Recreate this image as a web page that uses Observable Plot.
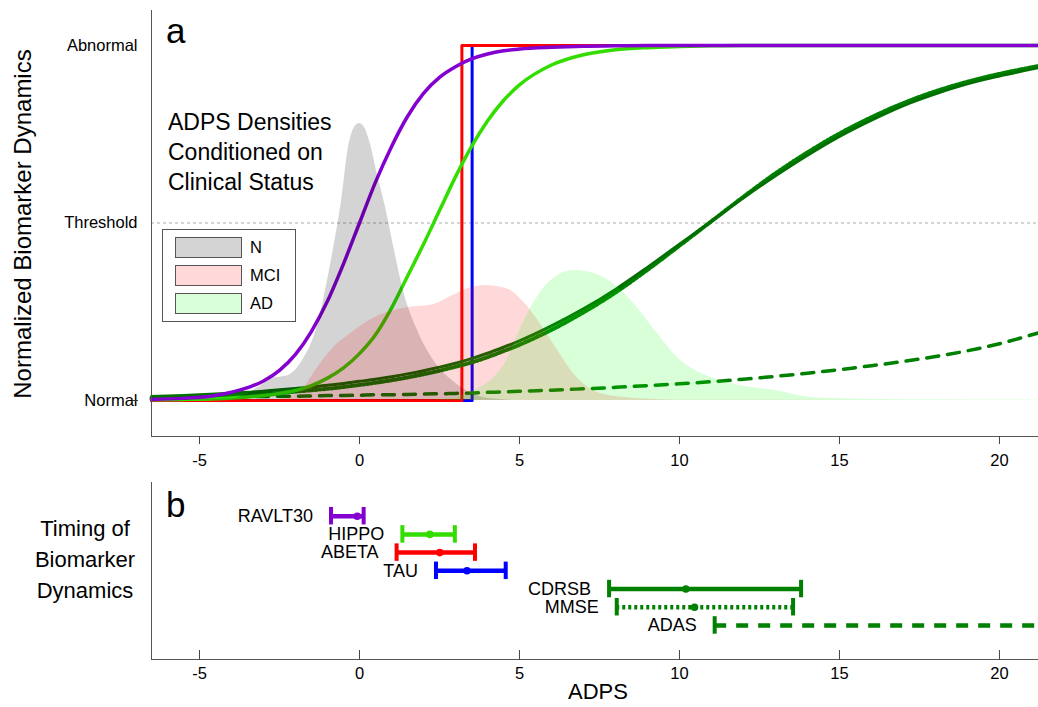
<!DOCTYPE html>
<html><head><meta charset="utf-8">
<script src="https://cdn.jsdelivr.net/npm/d3@7"></script>
<script src="https://cdn.jsdelivr.net/npm/@observablehq/plot@0.6"></script>
<style>
html,body{margin:0;padding:0;background:#fff;overflow:hidden;}
body{width:1038px;height:707px;position:relative;font-family:"Liberation Sans",Arial,sans-serif;color:#000;}
#pa{position:absolute;left:0;top:0;}
#pb{position:absolute;left:0;top:470px;}
.abs{position:absolute;white-space:nowrap;line-height:1;}
.sw{position:absolute;left:175px;width:65px;height:19px;border:1px solid #555;}
.lg{position:absolute;left:250px;height:20px;line-height:20px;font-size:16.5px;}
</style></head><body>
<div id="pa"></div><div id="pb"></div>

<div class="abs" style="left:23.4px;top:224px;font-size:24px;transform:translate(-50%,-50%) rotate(-90deg);">Normalized Biomarker Dynamics</div>
<div class="abs" style="left:166px;top:13.4px;font-size:35px;">a</div>
<div class="abs" style="left:168px;top:107px;font-size:23px;line-height:30px;">ADPS Densities<br>Conditioned on<br>Clinical Status</div>

<div style="position:absolute;left:162px;top:229px;width:132px;height:91px;border:1px solid #555;background:#fff;"></div>
<div class="sw" style="top:237px;background:rgba(0,0,0,0.17);"></div>
<div class="sw" style="top:265px;background:rgba(255,0,0,0.15);"></div>
<div class="sw" style="top:293px;background:rgba(0,255,0,0.15);"></div>
<div class="lg" style="top:237px;">N</div>
<div class="lg" style="top:265px;">MCI</div>
<div class="lg" style="top:293px;">AD</div>

<div class="abs" style="left:166px;top:487.4px;font-size:35px;">b</div>
<div class="abs" style="left:85px;top:513px;font-size:22px;line-height:31px;text-align:center;transform:translateX(-50%);">Timing of<br>Biomarker<br>Dynamics</div>
<div class="abs" style="left:598px;top:681.4px;font-size:22px;transform:translateX(-50%);">ADPS</div>

<script>
// ---------- shared axes ----------
const xDomain = [-6.5, 21.22];
const xTickVals = [-5, 0, 5, 10, 15, 20];
const yDomainA = [-0.1014, 1.0986];
const yTickVals = [0, 0.5, 1];
const yTickLabels = ["Normal", "Threshold", "Abnormal"];

// ---------- panel a: biomarker curves ----------
const gridX = [-6.5,-5.5,-4.5,-3.5,-3,-2.5,-2,-1.5,-1,-0.5,0,0.5,1,1.5,2,2.5,3,3.5,4,4.5,5,6,7,8,9,10,11,12,13,14,15,16,17,18,19,20,21.2];
const ravlt30Y = [0.003,0.006,0.014,0.036,0.055,0.085,0.13,0.195,0.28,0.385,0.5,0.615,0.715,0.80,0.865,0.91,0.94,0.962,0.976,0.985,0.99,0.995,0.998,0.999,1,1,1,1,1,1,1,1,1,1,1,1,1];
const hippoY = [0.002,0.003,0.005,0.01,0.014,0.02,0.028,0.042,0.063,0.092,0.132,0.185,0.26,0.35,0.44,0.535,0.63,0.715,0.787,0.845,0.889,0.945,0.974,0.988,0.994,0.997,0.999,1,1,1,1,1,1,1,1,1,1];
const cdrsbY = [0.011,0.014,0.018,0.023,0.026,0.03,0.034,0.038,0.043,0.048,0.054,0.06,0.067,0.075,0.084,0.094,0.105,0.118,0.133,0.15,0.168,0.21,0.258,0.313,0.375,0.44,0.505,0.571,0.633,0.691,0.744,0.79,0.831,0.864,0.892,0.914,0.937];
const mmseY = [0.006,0.008,0.011,0.015,0.018,0.021,0.025,0.029,0.033,0.038,0.044,0.05,0.057,0.065,0.074,0.084,0.095,0.107,0.122,0.139,0.157,0.199,0.248,0.304,0.368,0.436,0.505,0.574,0.64,0.699,0.752,0.798,0.838,0.871,0.898,0.92,0.942];
const adasY = [0.008,0.009,0.010,0.011,0.011,0.012,0.012,0.013,0.014,0.014,0.015,0.016,0.016,0.017,0.018,0.019,0.020,0.021,0.023,0.024,0.026,0.029,0.033,0.037,0.042,0.047,0.053,0.060,0.068,0.077,0.087,0.098,0.110,0.124,0.140,0.160,0.19];
const abetaStepX = [-6.5, 3.2, 21.2];
const abetaStepY = [0, 1, 1];
const tauStepX = [-6.5, 3.52, 21.2];
const tauStepY = [0, 1, 1];

// ---------- panel a: ADPS densities by clinical status ----------
const densNX = [-6.5,-4,-3.2,-2.7,-2.3,-1.8,-1.3,-0.9,-0.55,-0.35,-0.15,0,0.15,0.35,0.55,0.8,1.1,1.4,1.8,2.3,2.9,3.5,4.2,5,21.2];
const densNY = [0,0.005,0.035,0.063,0.068,0.11,0.215,0.385,0.57,0.71,0.77,0.78,0.77,0.72,0.64,0.55,0.42,0.30,0.20,0.115,0.056,0.02,0.004,0,0];
const densMciX = [-6.5,-2.8,-2.3,-1.8,-1.3,-0.8,-0.25,0.3,0.8,1.6,2.3,2.9,3.5,3.9,4.6,5.1,5.7,6.2,6.7,7.2,7.8,8.8,10,21.2];
const densMciY = [0,0,0.008,0.03,0.094,0.15,0.19,0.225,0.246,0.263,0.27,0.295,0.318,0.324,0.315,0.28,0.21,0.14,0.075,0.034,0.014,0.005,0.001,0];
const densAdX = [-6.5,2,3,3.6,4.1,4.6,5.1,5.7,6.2,6.7,7.2,7.7,8.3,8.8,9.3,9.8,10.3,10.9,11.9,13,14,15,16.5,18,21.2];
const densAdY = [0,0,0.01,0.028,0.056,0.113,0.216,0.31,0.352,0.366,0.361,0.343,0.30,0.248,0.19,0.134,0.095,0.068,0.042,0.028,0.01,0.005,0.003,0.002,0.001];

// ---------- panel b: timing intervals ----------
const markerNames = ["RAVLT30","HIPPO","ABETA","TAU","CDRSB","MMSE","ADAS"];
const markerLo  = [-0.89, 1.34, 1.16, 2.39, 7.8, 8.04, 11.1];
const markerMid = [-0.07, 2.2, 2.51, 3.36, 10.2, 10.47, 25];
const markerHi  = [0.13, 2.98, 3.61, 4.57, 13.8, 13.55, 40];
const markerColors = ["#8400d0","#33dd00","#ff0000","#0000ff","#008000","#008000","#008000"];
const markerStyles = ["solid","solid","solid","solid","solid","dotted","dashed"];
const yDomainB = [-1.85, 7.87];

const dashFor = {solid: null, dotted: "3,3", dashed: "12,10"};
const fontStyle = {fontFamily: '"Liberation Sans", Arial, sans-serif', fontSize: "16.5px", color: "black", background: "transparent", overflow: "visible"};

const pts = (xs, ys) => xs.map((x, i) => ({x, y: ys[i]}));
const curveMark = (ys, stroke, dash, w = 3.5) => Plot.line(pts(gridX, ys), {x: "x", y: "y", stroke, strokeWidth: w, strokeDasharray: dash, curve: "monotone-x"});

const chartA = Plot.plot({
  width: 1038, height: 470,
  marginLeft: 151, marginRight: 0, marginTop: 10, marginBottom: 34,
  x: {domain: xDomain, label: null},
  y: {domain: yDomainA, label: null},
  style: fontStyle,
  marks: [
    Plot.ruleY([yTickVals[1]], {stroke: "#aaa", strokeWidth: 1, strokeDasharray: "3,3"}),
    Plot.line(pts(tauStepX, tauStepY), {x: "x", y: "y", stroke: "#0000ff", strokeWidth: 3, curve: "step-after"}),
    Plot.line(pts(abetaStepX, abetaStepY), {x: "x", y: "y", stroke: "#ff0000", strokeWidth: 3, curve: "step-after"}),
    curveMark(adasY, "#008000", "12,9"),
    curveMark(mmseY, "#008000", "2,2", 4),
    curveMark(cdrsbY, "#007000", null, 3),
    curveMark(hippoY, "#33dd00", null),
    curveMark(ravlt30Y, "#8400d0", null),
    Plot.areaY(pts(densNX, densNY), {x: "x", y: "y", fill: "black", fillOpacity: 0.17, curve: "monotone-x"}),
    Plot.areaY(pts(densMciX, densMciY), {x: "x", y: "y", fill: "red", fillOpacity: 0.15, curve: "monotone-x"}),
    Plot.areaY(pts(densAdX, densAdY), {x: "x", y: "y", fill: "#00ff00", fillOpacity: 0.15, curve: "monotone-x"}),
    Plot.ruleX([xDomain[0]], {stroke: "#555"}),
    Plot.ruleY([yDomainA[0]], {stroke: "#555"}),
    Plot.axisY({ticks: yTickVals, tickFormat: d => yTickLabels[yTickVals.indexOf(d)], tickSize: 0, tickPadding: 14, label: null}),
    Plot.axisY({ticks: [yTickVals[0]], tickFormat: () => "", tickSize: 6, dx: -13, stroke: "#333", label: null}),
    Plot.axisX({ticks: xTickVals, tickFormat: d => String(d), tickSize: 8, tickPadding: 10, stroke: "#444", label: null})
  ]
});
document.getElementById("pa").append(chartA);

const rows = markerNames.map((name, i) => ({name, i, lo: markerLo[i], mid: markerMid[i], hi: markerHi[i], color: markerColors[i], style: markerStyles[i]}));

const chartB = Plot.plot({
  width: 1038, height: 237,
  marginLeft: 151, marginRight: 0, marginTop: 12, marginBottom: 48,
  x: {domain: xDomain, label: null},
  y: {domain: yDomainB, reverse: true, axis: null, label: null},
  color: {type: "identity"},
  style: fontStyle,
  marks: [
    ...["solid", "dotted", "dashed"].map(s => Plot.ruleY(rows, {filter: d => d.style === s, y: "i", x1: "lo", x2: "hi", stroke: "color", strokeWidth: 4.5, strokeDasharray: dashFor[s], clip: true})),
    Plot.ruleX(rows, {x: "lo", y1: d => d.i - 0.48, y2: d => d.i + 0.48, stroke: "color", strokeWidth: 4, clip: true}),
    Plot.ruleX(rows, {x: "hi", y1: d => d.i - 0.48, y2: d => d.i + 0.48, stroke: "color", strokeWidth: 4, clip: true}),
    Plot.dot(rows, {x: "mid", y: "i", r: 3.8, fill: "color", clip: true}),
    Plot.text(rows, {x: "lo", y: "i", text: "name", textAnchor: "end", dx: -18, fontSize: 18, fill: "black"}),
    Plot.ruleX([xDomain[0]], {stroke: "#555"}),
    Plot.ruleY([yDomainB[1]], {stroke: "#555"}),
    Plot.axisX({ticks: xTickVals, tickFormat: d => String(d), tickSize: 9, dy: -9, tickPadding: 8, stroke: "#444", label: null})
  ]
});
document.getElementById("pb").append(chartB);
</script>
</body></html>
